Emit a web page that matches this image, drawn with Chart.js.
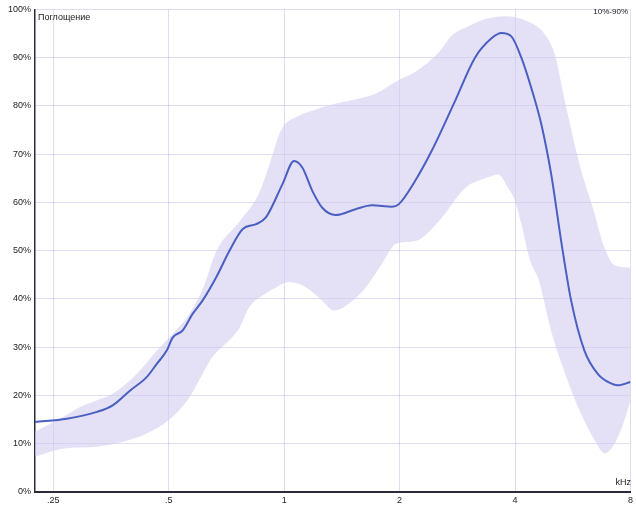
<!DOCTYPE html>
<html><head><meta charset="utf-8">
<script src="https://cdn.jsdelivr.net/npm/chart.js@4/dist/chart.umd.min.js"></script>
<style>html,body{margin:0;padding:0;background:#fff}#wrap{width:636px;height:508px;position:relative}</style>
</head><body><div id="wrap"><canvas id="c" width="636" height="508"></canvas></div>
<script>
// Mean absorption curve (frequency kHz, absorption %)
const meanFreq  = [0.224,0.271,0.325,0.358,0.396,0.438,0.466,0.494,0.512,0.544,0.577,0.613,0.665,0.720,0.780,0.845,0.896,0.990,1.061,1.116,1.184,1.257,1.362,1.535,1.695,1.910,1.988,2.196,2.425,2.789,3.145,3.473,3.686,3.912,4.154,4.410,4.683,4.970,5.276,5.600,6.066,6.570,7.112,7.403,8.0];
const meanValue = [14.5,15.2,16.6,18,21,23.8,26.6,29.3,32,33.5,36.9,39.7,44.5,50,54.5,55.5,56.9,63.8,68.6,67.2,62.4,58.9,57.4,58.6,59.4,59.1,59.6,64.5,70.7,81,90,94,95.1,94.4,90,83.7,76.2,65.8,52,39.7,29.3,24.5,22.5,22.1,22.8];

// 90% boundary of the band
const upperFreq  = [0.224,0.266,0.294,0.325,0.358,0.413,0.466,0.512,0.567,0.613,0.666,0.764,0.861,0.925,0.982,1.094,1.182,1.364,1.566,1.733,1.953,2.240,2.525,2.729,3.021,3.343,3.768,4.323,4.786,5.080,5.393,5.935,6.375,6.85,7.27,8.0];
const upperValue = [12.5,15.6,17.6,19,20.4,24.5,29.3,32.8,37,42,50,56,62,69,75,78,79,80.5,81.5,82.5,85,87.5,91,94.5,96.5,98,98.6,97.5,94.8,90.6,81,67,59,50.5,47,46.5];

// 10% boundary of the band
const lowerFreq  = [0.224,0.266,0.325,0.380,0.438,0.512,0.567,0.613,0.650,0.699,0.764,0.811,0.888,0.953,1.030,1.141,1.255,1.349,1.474,1.632,1.796,1.953,2.200,2.525,2.967,3.404,3.613,3.837,4.0,4.170,4.375,4.617,4.960,5.490,5.935,6.453,6.85,7.27,7.72,8.0];
const lowerValue = [7.3,9,9.4,10.4,12.1,15.6,19.7,24.5,28,30.5,34,38.3,41,42.4,43.5,42.4,39.7,37.6,39,42.4,47.2,51.4,52,56,63,65.2,65.8,63,60.3,55,48,43.8,33.5,23,16.3,10.7,8,10,14.9,19];

const xTickValues = [0.25,0.5,1,2,4,8];
const xTickLabels = ['.25','.5','1','2','4','8'];
const yTickStep = 10;

const toXY = (xs, ys) => xs.map((x, i) => ({x: x, y: ys[i]}));

const textPlugin = {
  id: 'texts',
  afterDraw(chart) {
    const ctx = chart.ctx;
    ctx.save();
    ctx.fillStyle = '#222';
    ctx.textBaseline = 'middle';
    ctx.font = '9px "Liberation Sans", Arial, sans-serif';
    ctx.textAlign = 'left';
    ctx.fillText('Поглощение', 38, 18);
    ctx.textAlign = 'right';
    ctx.font = '8px "Liberation Sans", Arial, sans-serif';
    ctx.fillText('10%-90%', 628, 12);
    ctx.font = '9px "Liberation Sans", Arial, sans-serif';
    ctx.fillText('kHz', 631, 483);
    ctx.restore();
  }
};

new Chart(document.getElementById('c'), {
  type: 'line',
  data: {
    datasets: [
      {
        label: 'mean',
        data: toXY(meanFreq, meanValue),
        borderColor: '#4a5fc2',
        borderWidth: 2,
        pointRadius: 0,
        fill: false,
        cubicInterpolationMode: 'monotone',
        order: 0
      },
      {
        label: '90%',
        data: toXY(upperFreq, upperValue),
        borderColor: 'rgba(0,0,0,0)',
        borderWidth: 0,
        pointRadius: 0,
        backgroundColor: 'rgba(205,200,238,0.55)',
        fill: '+1',
        cubicInterpolationMode: 'monotone',
        order: 1
      },
      {
        label: '10%',
        data: toXY(lowerFreq, lowerValue),
        borderColor: 'rgba(0,0,0,0)',
        borderWidth: 0,
        pointRadius: 0,
        fill: false,
        cubicInterpolationMode: 'monotone',
        order: 2
      }
    ]
  },
  options: {
    responsive: false,
    animation: false,
    devicePixelRatio: 1,
    layout: {padding: {top: 8, right: 3, left: 0, bottom: 0}},
    plugins: {legend: {display: false}, tooltip: {enabled: false}},
    scales: {
      x: {
        type: 'logarithmic',
        min: 0.224,
        max: 8,
        afterFit(s) { s.height = 16; },
        afterBuildTicks(s) { s.ticks = xTickValues.map(v => ({value: v})); },
        ticks: {
          autoSkip: false,
          maxRotation: 0,
          padding: 3,
          color: '#222',
          font: {size: 9, family: '"Liberation Sans", Arial, sans-serif'},
          callback: (v) => { const i = xTickValues.indexOf(v); return i >= 0 ? xTickLabels[i] : ''; }
        },
        grid: {color: 'rgba(150,140,215,0.3)', drawTicks: false},
        border: {color: '#2a2a3a', width: 2}
      },
      y: {
        min: 0,
        max: 100,
        afterFit(s) { s.width = 35; },
        ticks: {
          stepSize: yTickStep,
          padding: 4,
          color: '#222',
          font: {size: 9, family: '"Liberation Sans", Arial, sans-serif'},
          callback: (v) => v + '%'
        },
        grid: {color: 'rgba(150,140,215,0.3)', drawTicks: false},
        border: {color: '#2a2a3a', width: 1.5}
      }
    }
  },
  plugins: [textPlugin]
});
</script>
</body></html>
